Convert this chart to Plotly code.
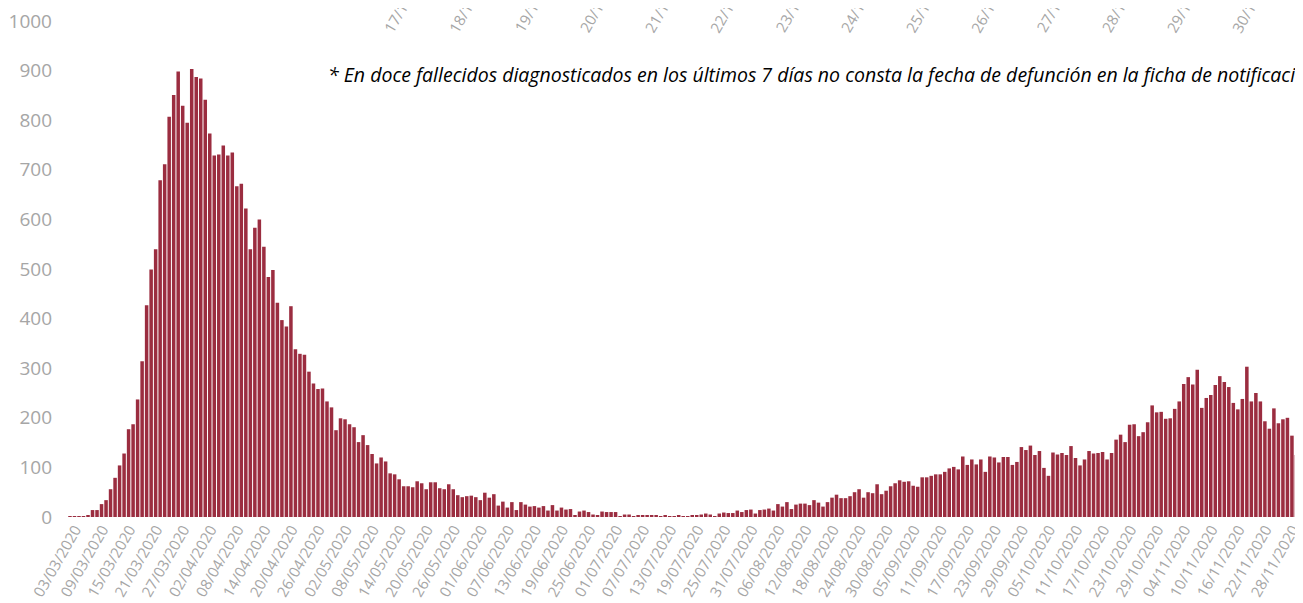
import math
import pandas as pd
import plotly.graph_objects as go

start_date = "2020-03-03"

# Daily deaths, 03/03/2020 .. 30/11/2020
deaths_mar_start = [1, 1, 2, 2, 3]
deaths_first_wave_rise = [14, 14, 26, 34, 56, 79, 104, 128, 177, 187, 237, 314, 427, 499, 540,
                          679, 711, 807, 851, 898, 829, 795, 903, 887, 884, 841, 773, 729, 731,
                          749, 729, 735, 667, 672, 622]
deaths_first_wave_fall = [540, 583, 600, 545, 484, 498, 432, 397, 384, 425, 338, 329, 327, 293,
                          269, 258, 259, 233, 221, 175, 199, 197, 187, 181, 151, 165, 145, 127,
                          108, 120, 112, 88, 86, 76, 62, 62, 60, 72, 68, 56, 70, 70, 58, 56, 66,
                          56, 44, 40, 42]
deaths_summer = [43, 40, 34, 49, 39, 46, 23, 31, 19, 30, 14, 30, 25, 21, 22, 19, 22, 13, 24, 13,
                 19, 15, 16, 4, 11, 13, 10, 5, 4, 11, 10, 10, 10, 2, 5, 5, 1, 4, 4, 3, 3, 4, 2,
                 3, 2, 2, 4, 2, 2, 3, 4, 5, 7, 5, 2, 7, 9, 8, 8, 13, 10, 14, 15, 7, 14, 15, 17, 13]
deaths_second_rise = [26, 21, 30, 16, 25, 27, 27, 24, 34, 29, 21, 30, 39, 45, 38, 38, 42, 50, 56,
                      39, 50, 48, 66, 46, 53, 62, 68, 74, 71, 72, 63, 61, 80, 80, 83, 86, 86, 91,
                      98, 101, 96, 122, 105, 116, 106, 116, 91, 122, 120, 110, 121, 121, 105, 111]
deaths_second_wave = [141, 135, 144, 125, 133, 99, 83, 130, 126, 129, 125, 143, 119, 104, 116,
                      133, 128, 129, 131, 116, 129, 156, 166, 151, 186, 187, 163, 171, 191, 225,
                      211, 212, 198, 199, 218, 233, 268, 282, 267, 297, 220, 240, 246, 266, 284,
                      272, 262, 230, 217, 238, 303, 233, 250, 233, 193, 178, 219, 189, 197, 200,
                      164, 125]

deaths = (deaths_mar_start + deaths_first_wave_rise + deaths_first_wave_fall + deaths_summer
          + deaths_second_rise + deaths_second_wave)

dates = pd.date_range(start_date, periods=len(deaths), freq="D")
tick_dates = dates[::6]
tick_labels = [d.strftime("%d/%m/%Y") for d in tick_dates]

y_ticks = list(range(0, 1001, 100))

# cut-off tick labels of the chart above (only their beginnings are visible)
top_labels = ["17/11/2020", "18/11/2020", "19/11/2020", "20/11/2020", "21/11/2020",
              "22/11/2020", "23/11/2020", "24/11/2020", "25/11/2020", "26/11/2020",
              "27/11/2020", "28/11/2020", "29/11/2020", "30/11/2020"]

note = ("* En doce fallecidos diagnosticados en los últimos 7 días no consta la fecha "
        "de defunción en la ficha de notificación")

# the page body adds an 8 px offset, so the figure is 8 px smaller than the window
W, H = 1295, 595
ML, MR, MT, MB = 52, 0, 11, 86
PW, PH = W - ML - MR, H - MT - MB

grey = "#a6a6a6"
bar_color = "#9b2d40"

fig = go.Figure()
fig.add_trace(go.Bar(x=dates, y=deaths, marker=dict(color=bar_color, line=dict(width=0)),
                     hoverinfo="x+y"))

day_px = 4.52
first_day_offset = 10 / day_px          # first bar 10 px right of the plot's left edge
t0 = pd.Timestamp(start_date)
x_range = [t0 - pd.Timedelta(hours=first_day_offset * 24),
           t0 + pd.Timedelta(hours=(PW / day_px - first_day_offset) * 24)]
tick_pos = [d + pd.Timedelta(hours=29) for d in tick_dates]

angle = 60
annotations = []
L = 80
for i, lab in enumerate(top_labels):
    sx = 381 + 65.4 * i
    sy = 21
    cx = sx + L / 2 * math.cos(math.radians(angle))
    cy = sy - L / 2 * math.sin(math.radians(angle))
    annotations.append(dict(text=lab, xref="paper", yref="paper",
                            x=(cx - ML) / PW, y=(H - MB - cy) / PH,
                            xanchor="center", yanchor="middle", textangle=-angle,
                            showarrow=False,
                            font=dict(family="Open Sans", size=15, color=grey)))

annotations.append(dict(text="<i>" + note + "</i>", xref="paper", yref="paper",
                        x=(319 - ML) / PW, y=(H - MB - 65) / PH,
                        xanchor="left", yanchor="middle", showarrow=False,
                        font=dict(family="Open Sans", size=19.5, color="#000000")))

fig.update_layout(
    width=W, height=H, autosize=False,
    margin=dict(l=ML, r=MR, t=MT, b=MB, pad=0),
    paper_bgcolor="white", plot_bgcolor="white",
    showlegend=False, bargap=0.22,
    annotations=annotations,
    xaxis=dict(type="date", range=x_range, tickvals=tick_pos, ticktext=tick_labels,
               tickangle=-angle, showgrid=False, zeroline=False, showline=False,
               ticks="", ticklabeloverflow="allow",
               tickfont=dict(family="Open Sans", size=15, color=grey)),
    yaxis=dict(range=[0, 1000], tickvals=y_ticks, showgrid=False, zeroline=False,
               showline=False, ticks="", ticklabelstandoff=7, ticklabeloverflow="allow",
               tickfont=dict(family="Open Sans", size=19, color=grey)),
)

fig.write_html("out.html")
